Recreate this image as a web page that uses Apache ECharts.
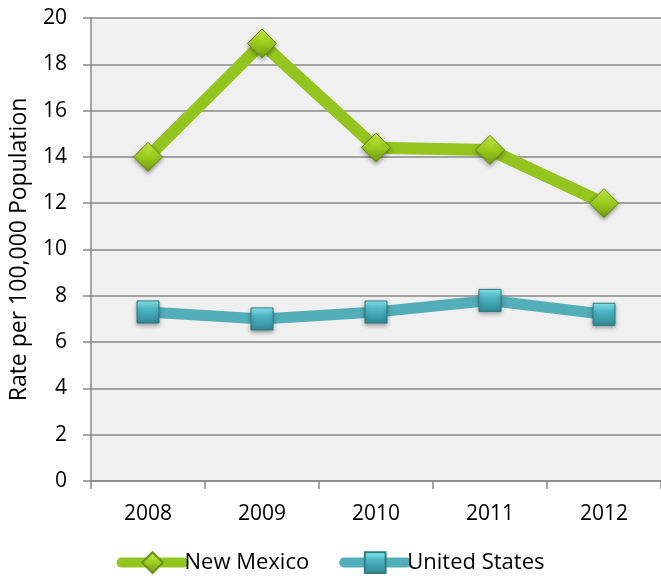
<!DOCTYPE html>
<html><head><meta charset="utf-8">
<script src="https://cdn.jsdelivr.net/npm/echarts@6/dist/echarts.min.js"></script>
<style>html,body{margin:0;padding:0;background:#fff}#c{width:661px;height:576px}</style>
</head><body><div id="c"></div>
<script>
const categories = ['2008','2009','2010','2011','2012'];
const newMexico = [14.0, 18.9, 14.4, 14.3, 12.0];
const unitedStates = [7.3, 7.0, 7.3, 7.8, 7.2];
const yTicks = {min: 0, max: 20, interval: 2};
const yName = 'Rate per 100,000 Population';
const FONT = 'Open Sans';

const chart = echarts.init(document.getElementById('c'));
const greenFill = new echarts.graphic.LinearGradient(0,0,0,1,[{offset:0,color:'#c8f04a'},{offset:0.5,color:'#9ccc1e'},{offset:1,color:'#6f9a10'}]);
const tealFill = new echarts.graphic.LinearGradient(0,0,0,1,[{offset:0,color:'#8ff4fb'},{offset:0.35,color:'#4fb8c6'},{offset:1,color:'#2f8896'}]);
chart.setOption({
  backgroundColor: '#fff',
  animation: false,
  textStyle: {fontFamily: FONT},
  grid: {left: 88, top: 18, width: 577, height: 463, backgroundColor: '#f0f0f0', show: true, borderWidth: 0},
  xAxis: {
    type: 'category', data: categories, boundaryGap: true,
    axisLine: {lineStyle: {color: '#888', width: 1.5}},
    axisTick: {show: true, length: 8, lineStyle: {color: '#888', width: 1.5}},
    axisLabel: {color: '#000', fontSize: 21, margin: 23, fontFamily: FONT}
  },
  yAxis: {
    type: 'value', min: yTicks.min, max: yTicks.max, interval: yTicks.interval,
    name: yName, nameLocation: 'middle', nameGap: 60, nameRotate: 90,
    nameTextStyle: {color: '#000', fontSize: 23, fontFamily: FONT},
    axisLine: {show: true, lineStyle: {color: '#888', width: 1.5}},
    axisTick: {show: true, length: 8, lineStyle: {color: '#888', width: 1.5}},
    splitLine: {lineStyle: {color: '#888', width: 1.5}},
    axisLabel: {color: '#000', fontSize: 21, margin: 24, fontFamily: FONT}
  },
  legend: {
    bottom: -3, left: 'center', itemGap: 30, itemWidth: 62, itemHeight: 26,
    textStyle: {color: '#000', fontSize: 22, fontFamily: FONT, padding: [0,0,0,-4]},
    data: [
      {name: 'New Mexico', lineStyle: {width: 10, cap: 'round', color: '#93c51e'}},
      {name: 'United States', lineStyle: {width: 10, cap: 'round', color: '#52aeb8'}}
    ]
  },
  series: [
    {name: 'New Mexico', type: 'line', data: newMexico, symbol: 'diamond', symbolSize: [29, 29],
     lineStyle: {color: '#93c51e', width: 12}, itemStyle: {color: greenFill, borderColor: '#6a8f15', borderWidth: 1, shadowBlur: 4, shadowColor: 'rgba(0,0,0,0.35)', shadowOffsetY: 2}},
    {name: 'United States', type: 'line', data: unitedStates, symbol: 'rect', symbolSize: [22, 22],
     lineStyle: {color: '#52aeb8', width: 11}, itemStyle: {color: tealFill, borderColor: '#2f7c86', borderWidth: 1, shadowBlur: 4, shadowColor: 'rgba(0,0,0,0.35)', shadowOffsetY: 2}}
  ]
});
</script></body></html>
